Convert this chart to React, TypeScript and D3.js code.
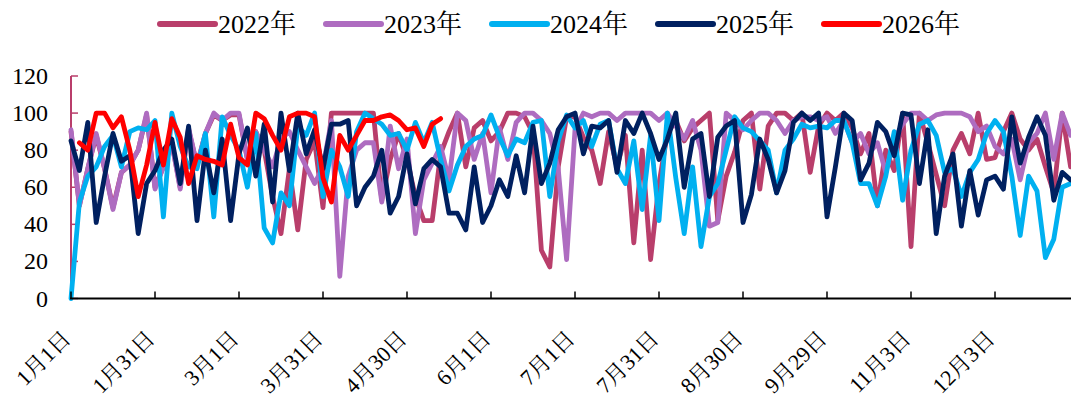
import React from 'react';
import * as d3 from 'd3';

const tickLabels = ['1月1日', '1月31日', '3月1日', '3月31日', '4月30日', '6月1日', '7月1日', '7月31日', '8月30日', '9月29日', '11月3日', '12月3日'];
const tickIndex = [0, 30, 60, 90, 120, 150, 180, 210, 240, 270, 300, 330];
const yTicks = [0, 20, 40, 60, 80, 100, 120];
const seriesNames = ['2022年', '2023年', '2024年', '2025年', '2026年'];
const seriesColors = ['#B93E6B', '#AE6CC0', '#00B0F0', '#002060', '#FF0000'];
const pointStep = 3; // day-index spacing between sampled points

const s2022 = [90, 50, 70, 88, 70, 49, 68, 72, 80, 99, 60, 71, 84, 60, 91, 72, 89, 99, 96, 99, 99, 75, 90, 80,
  55, 35, 70, 37, 75, 85, 49, 100, 100, 100, 100, 100, 100, 53, 75, 89, 75, 55, 42, 42, 78, 90, 100, 71, 92, 96,
  85, 90, 100, 100, 98, 89, 26, 17, 71, 98, 98, 87, 80, 62, 90, 71, 88, 30, 80, 21, 62, 89, 96, 85, 92, 96,
  100, 42, 66, 79, 96, 100, 59, 93, 100, 100, 96, 100, 68, 93, 100, 96, 100, 92, 78, 89, 50, 80, 69, 100, 28,
  100, 84, 67, 50, 80, 89, 78, 100, 75, 76, 90, 100, 86, 80, 86, 71, 57, 100, 71];
const s2023 = [91, 50, 70, 89, 70, 48, 68, 72, 80, 100, 59, 71, 84, 59, 92, 72, 89, 100, 96, 100,
  100, 75, 90, 80, 71, 86, 90, 80, 71, 62, 71, 96, 12, 66, 80, 84, 84, 52, 93, 70,
  86, 35, 64, 73, 82, 64, 100, 96, 75, 89, 57, 92, 75, 95, 100, 100, 96, 89, 70, 21,
  91, 100, 98, 100, 100, 96, 100, 100, 100, 100, 96, 100, 93, 86, 96, 80, 39, 41, 100, 96,
  91, 96, 100, 100, 96, 89, 96, 98, 98, 96, 98, 89, 96, 84, 89, 78, 84, 68, 86, 94,
  100, 100, 96, 99, 100, 100, 100, 98, 90, 93, 82, 78, 86, 64, 84, 89, 100, 75, 100, 88];
const s2024 = [0, 52, 66, 71, 82, 88, 71, 90, 92, 91, 96, 44, 100, 82, 71, 70, 89, 44, 98, 88,
  80, 60, 89, 38, 30, 57, 50, 93, 88, 100, 55, 80, 71, 55, 90, 100, 97, 94, 88, 89,
  80, 95, 84, 95, 75, 58, 72, 82, 86, 88, 99, 87, 77, 86, 84, 95, 96, 55, 85, 99,
  92, 96, 82, 94, 96, 70, 62, 85, 48, 88, 42, 100, 65, 35, 71, 28, 55, 62, 80, 98,
  92, 90, 85, 80, 57, 80, 86, 94, 92, 93, 92, 96, 96, 84, 62, 62, 50, 66, 90, 53,
  80, 94, 96, 88, 68, 70, 55, 68, 75, 89, 96, 90, 66, 34, 66, 58, 22, 32, 60, 62];
const s2025 = [85, 69, 95, 41, 66, 89, 74, 77, 35, 62, 69, 80, 86, 62, 93, 42, 80, 57, 86, 42,
  78, 92, 66, 94, 52, 100, 69, 100, 78, 91, 70, 94, 94, 96, 50, 60, 66, 80, 46, 55,
  78, 51, 70, 75, 71, 46, 46, 37, 71, 41, 50, 64, 55, 77, 57, 93, 62, 73, 91, 98,
  100, 78, 93, 92, 96, 68, 96, 89, 100, 89, 75, 86, 100, 60, 86, 89, 55, 87, 93, 96,
  41, 56, 86, 75, 57, 69, 95, 100, 96, 100, 44, 71, 100, 96, 64, 73, 95, 90, 77, 100,
  99, 62, 91, 35, 66, 78, 39, 69, 45, 64, 66, 59, 98, 73, 87, 98, 88, 53, 68, 64];
const s2026 = [null, 84, 80, 100, 100, 92, 98, 80, 55, 72, 95, 72, 97, 87, 62, 77, 75, 74, 72, 94,
  76, 72, 100, 97, 88, 80, 98, 100, 100, 98, 65, 52, 88, 80, 88, 96, 96, 98, 99, 96,
  91, 92, 82, 94, 97];

const allSeries = [s2022, s2023, s2024, s2025, s2026];

const W = 1071;
const H = 397;
const FONT = '"Liberation Serif", "Noto Serif CJK SC", serif';

export default function App() {
  const x = d3.scaleLinear().domain([0, 357]).range([71, 1070.6]);
  const y = d3.scaleLinear().domain([0, 120]).range([298.5, 76]);

  const line = d3
    .line<number | null>()
    .defined((d) => d !== null)
    .x((_, i) => x(i * pointStep))
    .y((d) => y(d as number));

  const legendStart = 160;
  const legendGap = 166;

  return (
    <svg width={W} height={H} style={{ position: 'absolute', left: 0, top: 0 }}>
      {/* legend */}
      {seriesNames.map((name, i) => (
        <g key={name} transform={`translate(${legendStart + i * legendGap},24)`}>
          <line x1={0} x2={55} y1={0} y2={0} stroke={seriesColors[i]} strokeWidth={6} strokeLinecap="round" />
          <text x={58} y={9} style={{ fontFamily: FONT, fontSize: 26 }} fill="#000">{name}</text>
        </g>
      ))}

      {/* y tick labels */}
      {yTicks.map((t) => (
        <text key={t} x={48} y={y(t) + 8} textAnchor="end" style={{ fontFamily: FONT, fontSize: 24 }} fill="#000">{t}</text>
      ))}

      {/* y axis */}
      <line x1={71} x2={71} y1={y(120)} y2={y(0)} stroke="#B93E6B" strokeWidth={2} />
      {yTicks.map((t) => (
        <line key={t} x1={71} x2={78} y1={y(t)} y2={y(t)} stroke="#B93E6B" strokeWidth={1.5} />
      ))}

      {/* series */}
      {allSeries.map((s, i) => (
        <path
          key={i}
          d={line(s as (number | null)[]) || ''}
          fill="none"
          stroke={seriesColors[i]}
          strokeWidth={4.8}
          strokeLinejoin="round"
          strokeLinecap="round"
        />
      ))}

      {/* x axis */}
      <line x1={70} x2={W} y1={y(0)} y2={y(0)} stroke="#000" strokeWidth={2} />
      {tickIndex.map((t) => (
        <line key={t} x1={x(t)} x2={x(t)} y1={y(0) - 7} y2={y(0)} stroke="#000" strokeWidth={1.5} />
      ))}
      {tickIndex.map((t, i) => (
        <text
          key={t}
          transform={`translate(${x(t) + 1},340) rotate(-45)`}
          textAnchor="end"
          style={{ fontFamily: FONT, fontSize: 22 }}
          fill="#000"
        >
          {tickLabels[i]}
        </text>
      ))}
    </svg>
  );
}
